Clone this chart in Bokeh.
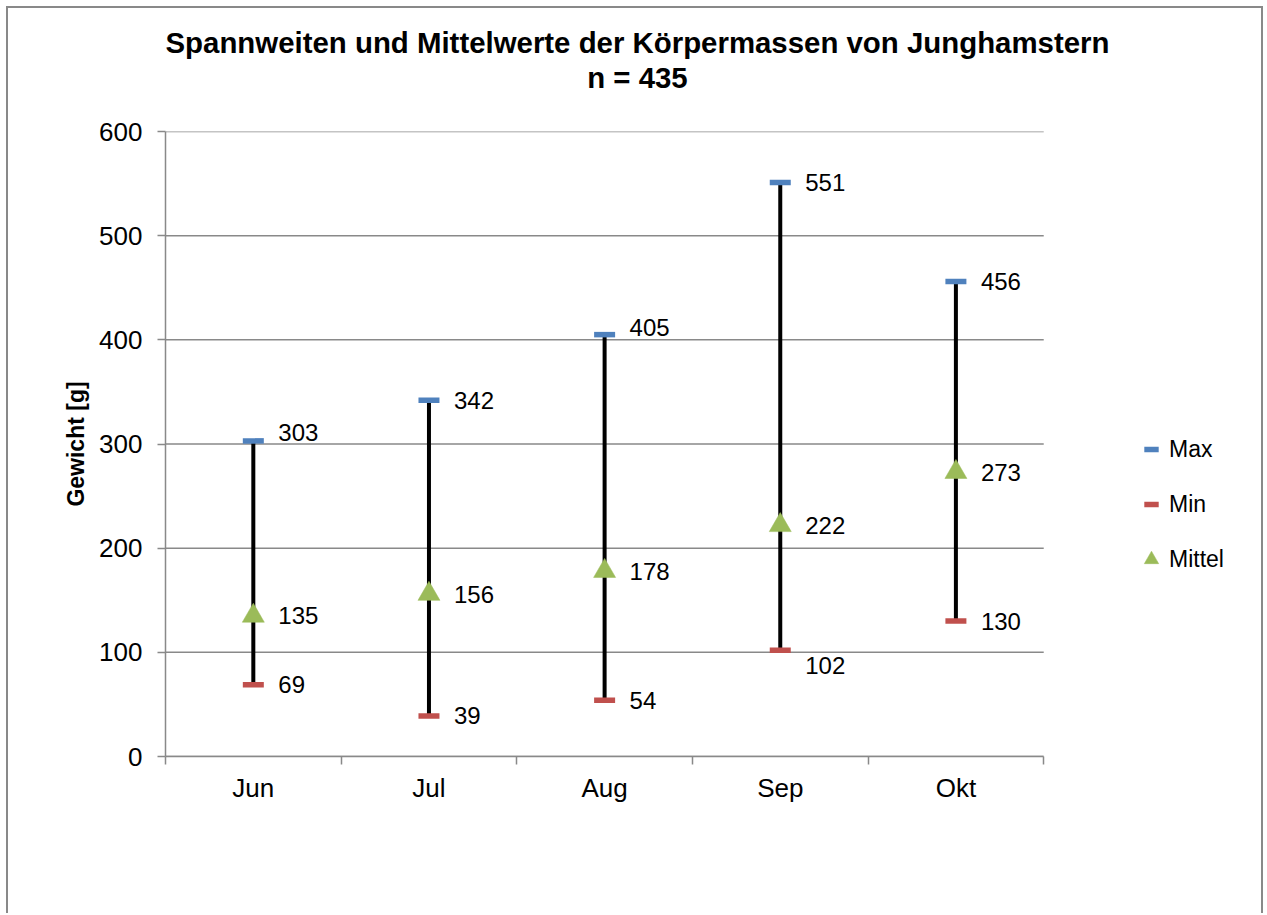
import numpy as np
from bokeh.plotting import figure
from bokeh.models import (Range1d, FixedTicker, Legend, LegendItem, ColumnDataSource)
from bokeh.core.properties import value
from bokeh.embed import file_html
from bokeh.resources import INLINE

# ---- data ----
months = ["Jun", "Jul", "Aug", "Sep", "Okt"]
max_vals = [303, 342, 405, 551, 456]
min_vals = [69, 39, 54, 102, 130]
mean_vals = [135, 156, 178, 222, 273]
y_ticks = [0, 100, 200, 300, 400, 500, 600]
title_lines = ["Spannweiten und Mittelwerte der Körpermassen von Junghamstern", "n = 435"]

# label vertical nudges (style, screen pixels, positive = down)
max_dy = [-8, 0, -7, 0, 0]
min_dy = [0, 0, 0, 15, 0]
mean_dy = [0, 0, 0, 0, 0]

FONT = "Liberation Sans"
GRAY = "#898989"

W, H = 1257, 907
X_END = 6.2          # frame extends right to hold the legend
xs = np.arange(len(months)) + 0.5

# trailing empty line keeps the title block clear of the plot area
p = figure(width=W, height=H, output_backend="svg", toolbar_location=None,
           x_range=Range1d(0, X_END), y_range=Range1d(0, 600),
           min_border_left=157, min_border_right=11, min_border_top=123,
           min_border_bottom=159, title="\n".join(title_lines) + "\n")
p.styles = {"margin": "6px 0px 0px 6px",
            "border-top": f"2px solid {GRAY}",
            "border-left": f"2px solid {GRAY}",
            "border-right": f"2px solid {GRAY}"}
p.outline_line_color = None
p.background_fill_color = "white"
p.border_fill_color = "white"

p.title.text_font = FONT
p.title.text_font_size = "29.4px"
p.title.text_font_style = "bold"
p.title.text_color = "black"
p.title.align = "left"
p.title.offset = 0
p.title.text_align = "center"
p.title.text_line_height = 1.07
p.title.standoff = 4

# grid (restricted to the category area)
p.xgrid.visible = False
p.ygrid.visible = False
p.segment(x0=0, x1=len(months), y0=y_ticks, y1=y_ticks, line_color=GRAY,
          line_width=1.5, level="underlay")

# y axis
ya = p.yaxis[0]
ya.ticker = FixedTicker(ticks=y_ticks, minor_ticks=[])
ya.axis_line_color = GRAY
ya.axis_line_width = 1.5
ya.major_tick_line_color = GRAY
ya.major_tick_line_width = 1.5
ya.major_tick_out = 8
ya.major_tick_in = 0
ya.minor_tick_line_color = None
ya.major_label_text_font = FONT
ya.major_label_text_font_size = "26px"
ya.major_label_text_color = "black"
ya.major_label_standoff = 15
ya.axis_label = "Gewicht [g]"
ya.axis_label_text_font = FONT
ya.axis_label_text_font_size = "23px"
ya.axis_label_text_font_style = "bold"
ya.axis_label_text_color = "black"
ya.axis_label_standoff = 7

# x axis
xa = p.xaxis[0]
xa.bounds = (0, len(months))
xa.ticker = FixedTicker(ticks=list(xs), minor_ticks=list(range(len(months) + 1)))
xa.major_label_overrides = {float(x): m for x, m in zip(xs, months)}
xa.axis_line_color = GRAY
xa.axis_line_width = 1.5
xa.major_tick_out = 0
xa.major_tick_in = 0
xa.major_tick_line_color = None
xa.minor_tick_out = 8
xa.minor_tick_in = 0
xa.minor_tick_line_color = GRAY
xa.minor_tick_line_width = 1.5
xa.major_label_text_font = FONT
xa.major_label_text_font_size = "26px"
xa.major_label_text_color = "black"
xa.major_label_standoff = 8

src = ColumnDataSource(dict(x=xs, hi=max_vals, lo=min_vals, mean=mean_vals,
                            hi_t=[str(v) for v in max_vals],
                            lo_t=[str(v) for v in min_vals],
                            mean_t=[str(v) for v in mean_vals],
                            hi_dy=max_dy, lo_dy=min_dy, mean_dy=mean_dy))

p.segment(x0="x", y0="lo", x1="x", y1="hi", source=src, line_color="black", line_width=4)
r_max = p.scatter("x", "hi", source=src, marker="dash", size=21, line_width=5.5,
                  line_color="#4F81BD")
r_min = p.scatter("x", "lo", source=src, marker="dash", size=21, line_width=5.5,
                  line_color="#C0504D")
r_mean = p.scatter("x", "mean", source=src, marker="triangle", size=22,
                   fill_color="#9BBB59", line_color="#9BBB59", line_width=0.5)

for ycol, tcol, dycol in (("hi", "hi_t", "hi_dy"), ("lo", "lo_t", "lo_dy"),
                          ("mean", "mean_t", "mean_dy")):
    p.text(x="x", y=ycol, text=tcol, source=src, x_offset=25, y_offset=dycol,
           text_align="left", text_baseline="middle", text_font=value(FONT),
           text_font_size="24px", text_color="black")

legend = Legend(items=[LegendItem(label="Max", renderers=[r_max]),
                       LegendItem(label="Min", renderers=[r_min]),
                       LegendItem(label="Mittel", renderers=[r_mean])],
                location=(968, 177), glyph_width=36, glyph_height=40, spacing=15,
                label_standoff=0, padding=0, margin=0, border_line_color=None,
                background_fill_alpha=0, label_text_font=FONT,
                label_text_font_size="23px", label_text_color="black")
p.add_layout(legend)

open("out.html", "w").write(file_html(p, INLINE))
